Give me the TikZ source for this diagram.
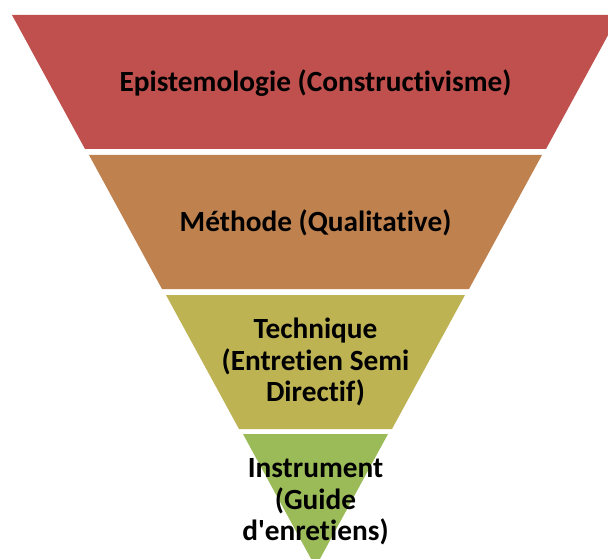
\documentclass[tikz,border=0pt]{standalone}
\usepackage{fontspec}
\setmainfont{Carlito}[Ligatures={CommonOff,TeXOff}]
\definecolor{bandA}{HTML}{C0504D}
\definecolor{bandB}{HTML}{BF824F}
\definecolor{bandC}{HTML}{BEB353}
\definecolor{bandD}{HTML}{9BBB59}
\begin{document}
\begin{tikzpicture}[x=1pt,y=-1pt,
  lbl/.style={font=\fontsize{29.3}{31.5}\selectfont\bfseries, align=center, inner sep=0pt, text=black}]
\clip (0,0) rectangle (608,559);
\fill[white] (0,0) rectangle (608,559);
\fill[bandA] (12,15) -- (619,15) -- (546,149) -- (85,149) -- cycle;
\fill[bandB] (89,155) -- (542,155) -- (469,289) -- (162,289) -- cycle;
\fill[bandC] (166,295) -- (465,295) -- (392,429) -- (239,429) -- cycle;
\fill[bandD] (243,434) -- (388,434) -- (315.5,567) -- cycle;
\node[lbl] (epi) at (315.5,83) {Epistemologie (Constructivisme)};
\node[lbl] (meth) at (315.5,223) {Méthode (Qualitative)};
\node[lbl] (tech) at (315.5,362) {Technique\\(Entretien Semi\\Directif)};
\node[lbl] (instr) at (315.5,502) {Instrument\\(Guide\\d'enretiens)};
\end{tikzpicture}
\end{document}
